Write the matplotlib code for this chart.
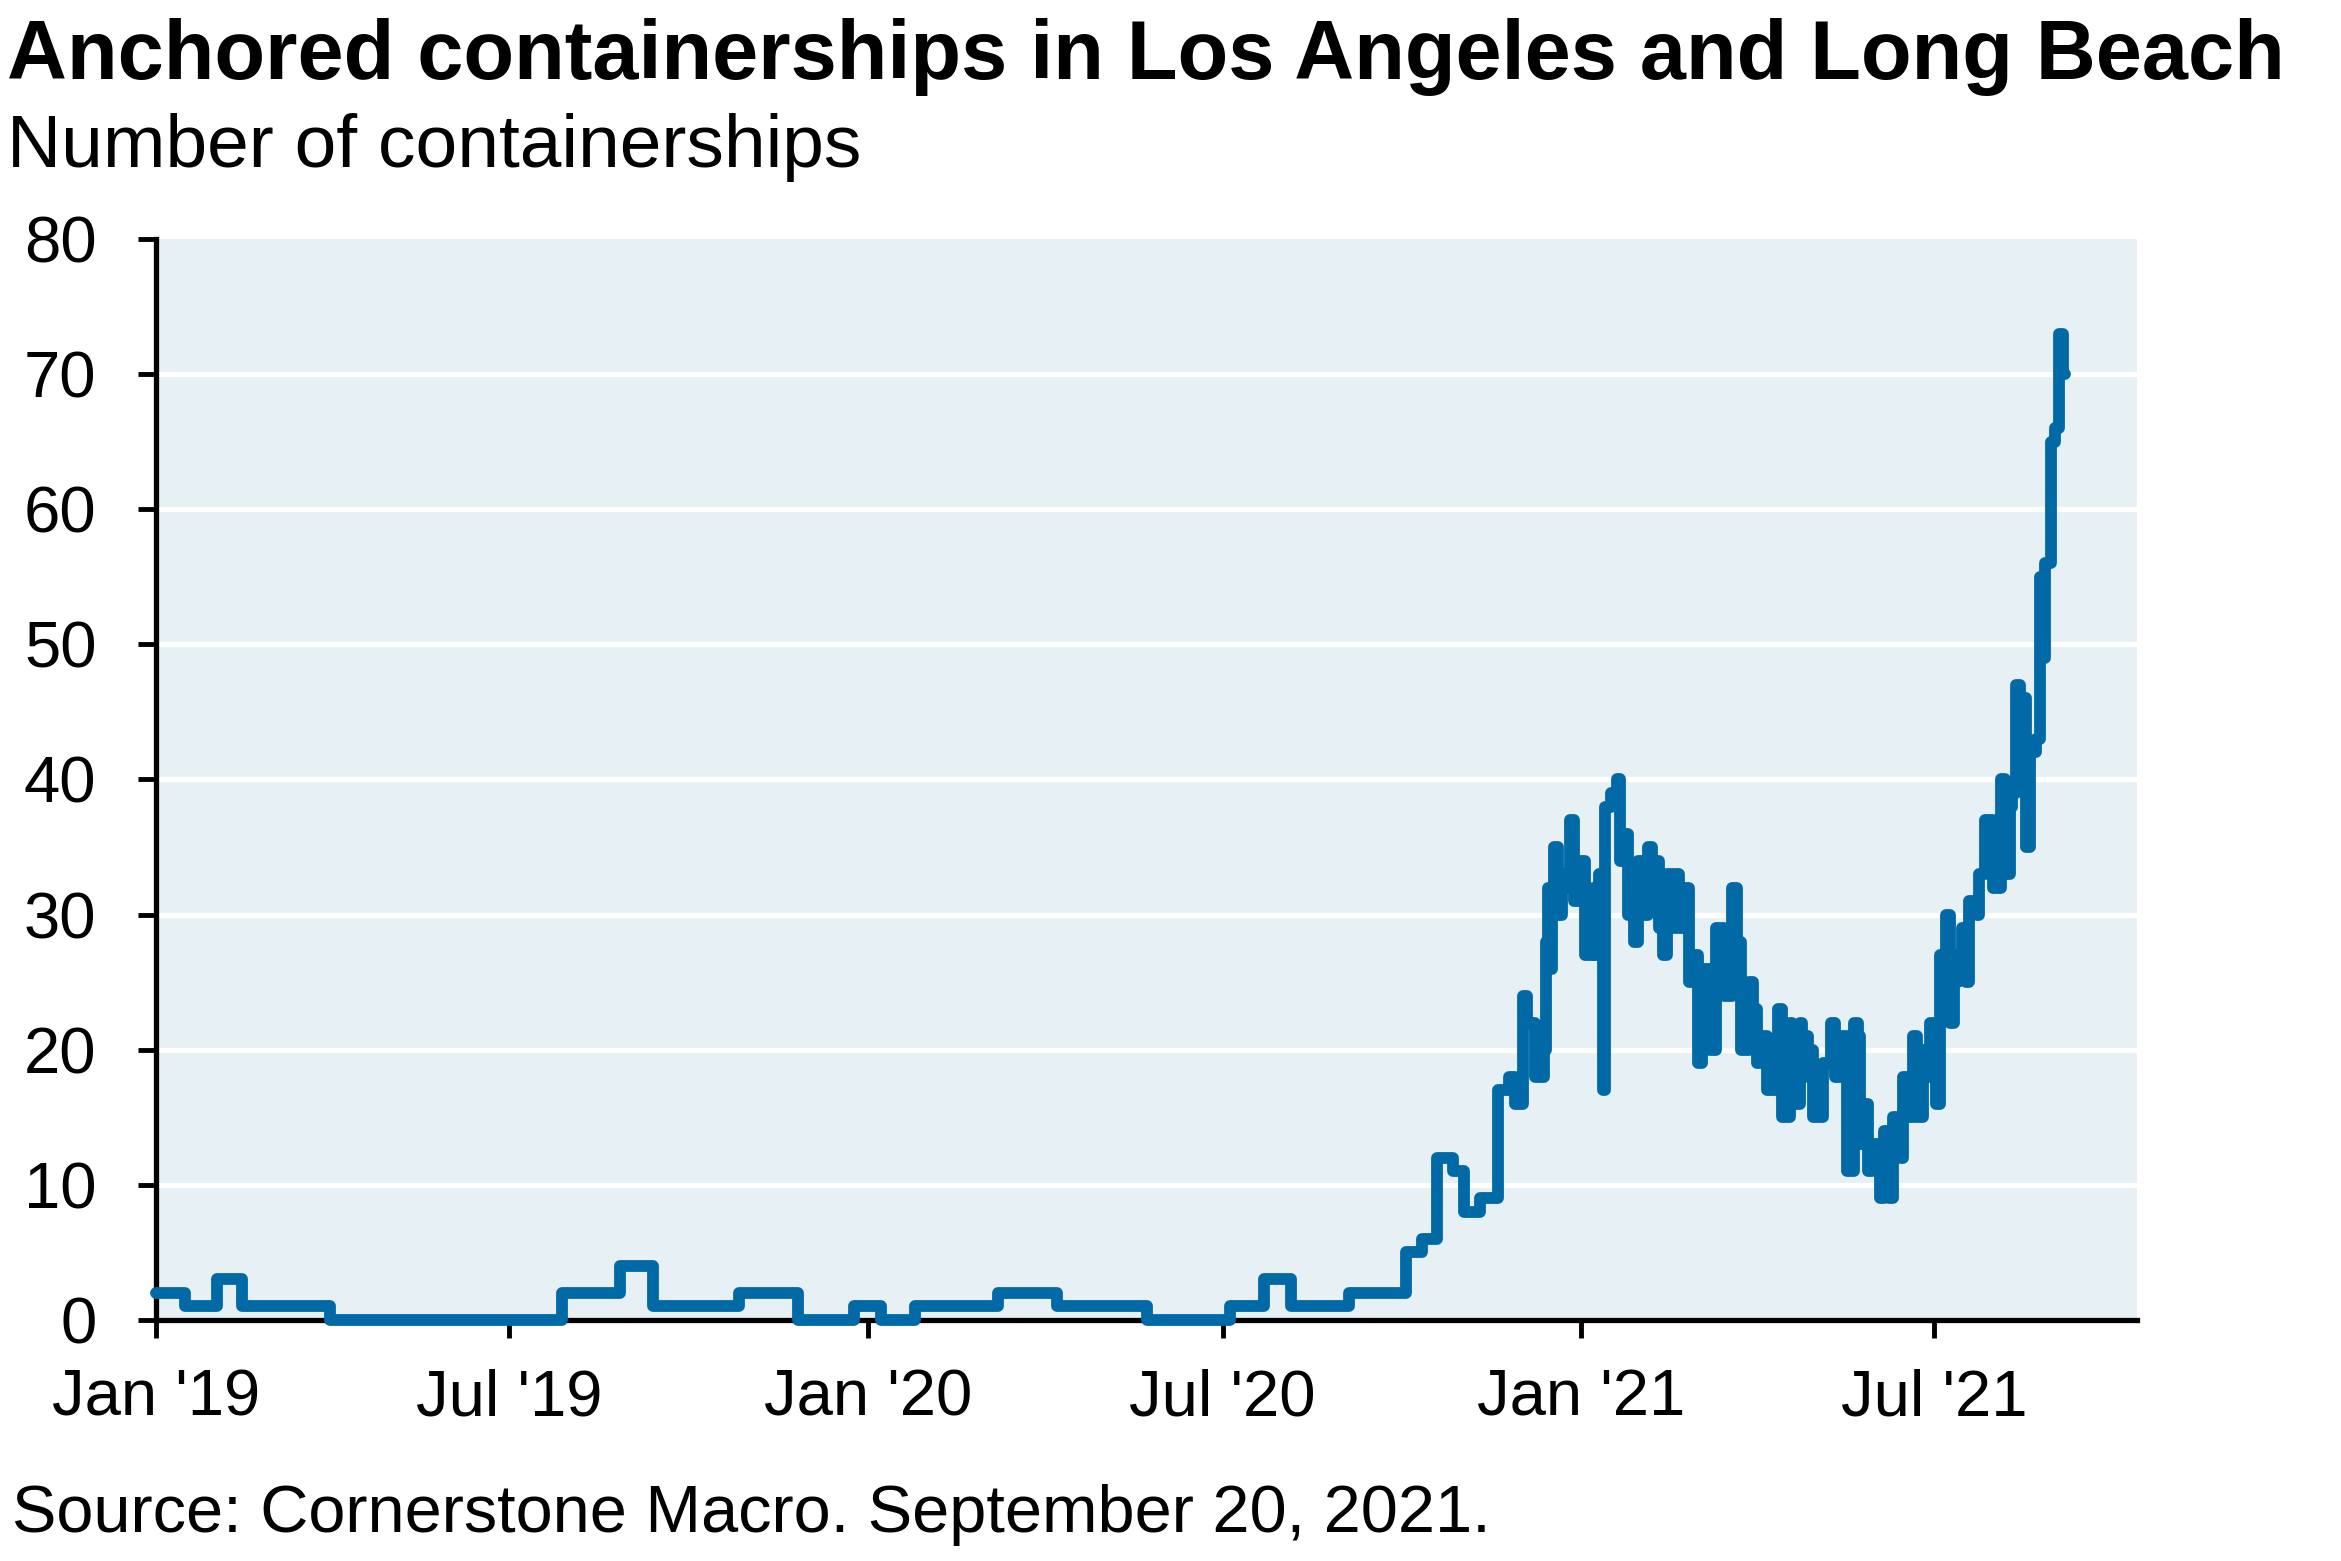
import numpy as np
import pandas as pd
import matplotlib
matplotlib.use("Agg")
import matplotlib.pyplot as plt
import matplotlib.dates as mdates

plt.rcParams['font.family'] = ['Liberation Sans', 'DejaVu Sans']

# anchored containerships, value holds from each date until the next one
dates = [
    '2019-01-01', '2019-01-16', '2019-02-01', '2019-02-14', '2019-03-31',
    '2019-07-28', '2019-08-27', '2019-09-13', '2019-10-27', '2019-11-26',
    '2019-12-25', '2020-01-08', '2020-01-25', '2020-03-08', '2020-04-07',
    '2020-05-23', '2020-07-05', '2020-07-22', '2020-08-05', '2020-09-04',
    '2020-10-03', '2020-10-11', '2020-10-19', '2020-10-27', '2020-11-02',
    '2020-11-10', '2020-11-19', '2020-11-25', '2020-11-28', '2020-12-02',
    '2020-12-04', '2020-12-08', '2020-12-13', '2020-12-14', '2020-12-15',
    '2020-12-16', '2020-12-17', '2020-12-18', '2020-12-20', '2020-12-22',
    '2020-12-24', '2020-12-26', '2020-12-28', '2020-12-31', '2021-01-03',
    '2021-01-07', '2021-01-08', '2021-01-10', '2021-01-12', '2021-01-13',
    '2021-01-16', '2021-01-19', '2021-01-21', '2021-01-23', '2021-01-25',
    '2021-01-28', '2021-01-30', '2021-02-01', '2021-02-04', '2021-02-06',
    '2021-02-08', '2021-02-10', '2021-02-12', '2021-02-14', '2021-02-16',
    '2021-02-18', '2021-02-20', '2021-02-23', '2021-02-25', '2021-02-28',
    '2021-03-02', '2021-03-04', '2021-03-08', '2021-03-11', '2021-03-15',
    '2021-03-19', '2021-03-22', '2021-03-24', '2021-03-28', '2021-03-30',
    '2021-04-01', '2021-04-04', '2021-04-06', '2021-04-12', '2021-04-14',
    '2021-04-18', '2021-04-19', '2021-04-23', '2021-04-24', '2021-04-26',
    '2021-04-27', '2021-04-29', '2021-04-30', '2021-05-05', '2021-05-09',
    '2021-05-11', '2021-05-14', '2021-05-17', '2021-05-21', '2021-05-23',
    '2021-05-24', '2021-05-27', '2021-05-28', '2021-05-30', '2021-06-03',
    '2021-06-05', '2021-06-08', '2021-06-10', '2021-06-14', '2021-06-15',
    '2021-06-17', '2021-06-20', '2021-06-22', '2021-06-25', '2021-06-28',
    '2021-06-29', '2021-07-02', '2021-07-04', '2021-07-07', '2021-07-09',
    '2021-07-11', '2021-07-13', '2021-07-15', '2021-07-17', '2021-07-19',
    '2021-07-23', '2021-07-24', '2021-07-27', '2021-07-31', '2021-08-04',
    '2021-08-06', '2021-08-09', '2021-08-10', '2021-08-12', '2021-08-14',
    '2021-08-17', '2021-08-19', '2021-08-22', '2021-08-24', '2021-08-26',
    '2021-08-27', '2021-08-30', '2021-09-01', '2021-09-03', '2021-09-05',
    '2021-09-06',
]
ships = [
    2, 1, 3, 1, 0,
    2, 4, 1, 2, 0,
    1, 0, 1, 2, 1,
    0, 1, 3, 1, 2,
    5, 6, 12, 11, 8,
    9, 17, 18, 16, 24,
    22, 18, 20, 28, 32,
    26, 30, 35, 30, 33,
    32, 37, 31, 34, 27,
    32, 27, 33, 17, 38,
    39, 40, 34, 36, 30,
    28, 34, 30, 35, 32,
    34, 29, 27, 33, 29,
    33, 29, 32, 25, 27,
    19, 26, 20, 29, 24,
    32, 28, 20, 25, 23,
    19, 21, 17, 23, 15,
    22, 16, 22, 19, 21,
    18, 20, 15, 19, 22,
    18, 21, 11, 22, 21,
    13, 16, 11, 13, 9,
    14, 9, 15, 12, 18,
    15, 21, 15, 20, 18,
    22, 16, 27, 30, 22,
    25, 27, 29, 25, 31,
    30, 33, 37, 32, 40,
    33, 38, 39, 47, 46,
    35, 42, 43, 55, 49,
    56, 65, 66, 73, 70,
    70,
]

y_ticks = [0, 10, 20, 30, 40, 50, 60, 70, 80]
x_ticks = ['2019-01-01', '2019-07-01', '2020-01-01', '2020-07-01', '2021-01-01', '2021-07-01']
x_tick_labels = ["Jan '19", "Jul '19", "Jan '20", "Jul '20", "Jan '21", "Jul '21"]

line_color = '#0069a6'
bg_color = '#e7f0f4'

fig = plt.figure(figsize=(23.41, 15.61), dpi=100)
ax = fig.add_axes([0.0667, 0.1544, 0.9129 - 0.0667, 0.8469 - 0.1544])
ax.set_facecolor(bg_color)

x = pd.to_datetime(dates)
ax.plot(x, ships, drawstyle='steps-post', color=line_color, lw=8.5,
        solid_joinstyle='round', solid_capstyle='round', zorder=3, clip_on=False)

ax.set_ylim(0, 80)
ax.set_yticks(y_ticks)
ax.set_xlim(pd.Timestamp('2019-01-01'), pd.Timestamp('2021-10-13'))
ax.set_xticks(pd.to_datetime(x_ticks))
ax.set_xticklabels(x_tick_labels)

for v in y_ticks[1:-1]:
    ax.axhline(v, color='white', lw=3.8, zorder=1)

for s in ['top', 'right']:
    ax.spines[s].set_visible(False)
for s in ['left', 'bottom']:
    ax.spines[s].set_linewidth(3.8)
    ax.spines[s].set_color('black')

ax.tick_params(axis='both', direction='out', length=13, width=3.5, labelsize=47, colors='black')
ax.tick_params(axis='y', pad=30)
ax.tick_params(axis='x', pad=22)

fig.text(0.003, 0.9494, 'Anchored containerships in Los Angeles and Long Beach',
         fontsize=59.8, fontweight='bold', va='baseline', ha='left')
fig.text(0.003, 0.893, 'Number of containerships', fontsize=54, va='baseline', ha='left')
fig.text(0.005, 0.0186, 'Source: Cornerstone Macro. September 20, 2021.',
         fontsize=48, va='baseline', ha='left')

fig.savefig('out.png', dpi=100)
